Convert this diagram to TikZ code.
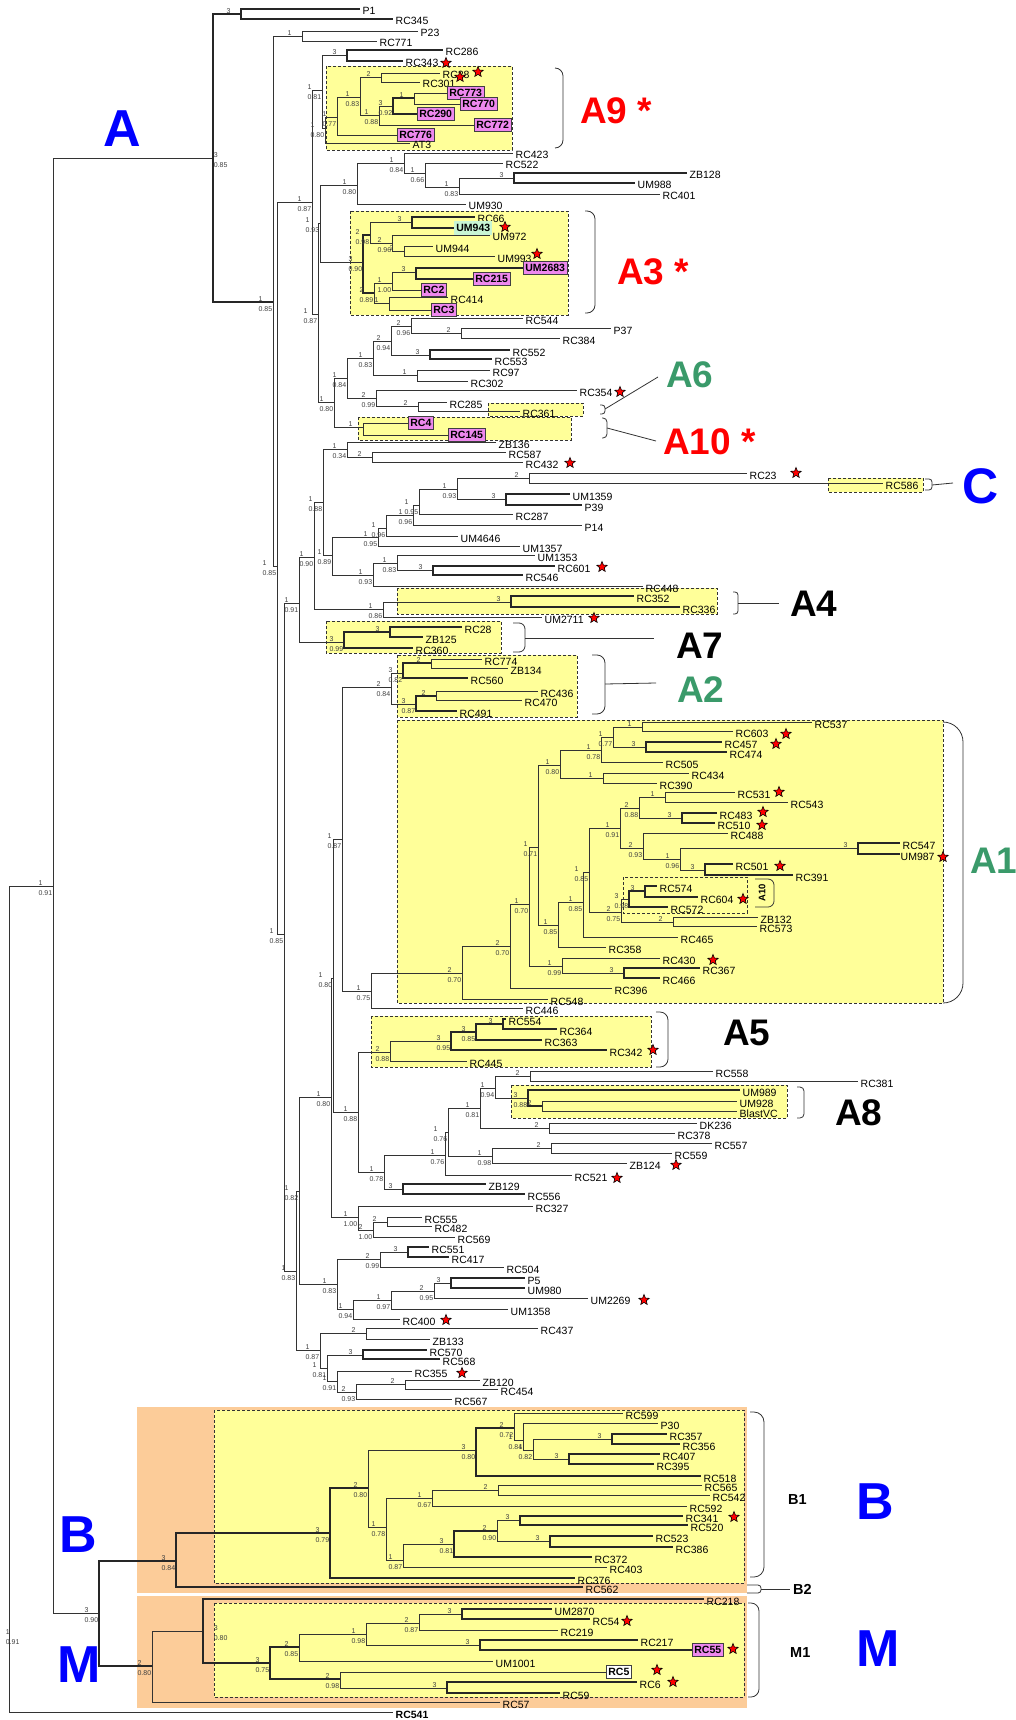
\documentclass[tikz,border=0pt]{standalone}
\usepackage{fontspec}
\setmainfont{Liberation Sans}
\usetikzlibrary{shapes.geometric}

\definecolor{clyel}{RGB}{255,255,153}
\definecolor{clorg}{RGB}{252,204,153}
\definecolor{boxmag}{RGB}{238,136,238}
\definecolor{boxgrn}{RGB}{200,245,212}
\definecolor{clred}{RGB}{255,0,0}
\definecolor{clgrn}{RGB}{58,154,106}
\definecolor{clblue}{RGB}{0,0,255}

\begin{document}
\begin{tikzpicture}[x=1pt, y=-1pt,
  br/.style={draw=black!80, line width=0.9pt},
  brt/.style={draw=black!85, line width=1.8pt},
  lf/.style={anchor=west, inner xsep=2.5pt, inner ysep=0pt, text height=12pt,
             text depth=0pt, font=\fontsize{10.5}{12}\selectfont},
  mbox/.style={anchor=west, draw=black!75, fill=boxmag, line width=0.8pt,
               inner xsep=2pt, inner ysep=2.5pt, text height=8pt, text depth=0.5pt,
               font=\bfseries\fontsize{10.5}{12}\selectfont},
  bs/.style={anchor=east, align=left, inner sep=0.6pt, yshift=-2pt,
             font=\fontsize{7}{10}\selectfont, text=black!75},
  clbox/.style={fill=clyel, draw=black!80, dash pattern=on 3pt off 2pt, line width=0.7pt},
  brk/.style={draw=black!80, line width=0.8pt},
  rstar/.style={star, star points=5, star point ratio=2.3, fill=red, draw=black,
                line width=0.6pt, minimum size=11pt, inner sep=0pt},
  sublab/.style={anchor=west, inner sep=0pt, font=\bfseries\fontsize{37}{37}\selectfont},
  biglab/.style={inner sep=0pt, text=clblue, font=\bfseries\fontsize{52}{52}\selectfont},
  smlab/.style={anchor=west, inner sep=0pt, font=\bfseries\fontsize{14.5}{15}\selectfont},
]
\useasboundingbox (0,0) rectangle (1016,1720);

% Backgrounds of B and M
\fill[clorg] (137,1407) rectangle (747,1593);
\fill[clorg] (137,1596) rectangle (747,1708);

% Clade boxes
\draw[clbox] (326,66) rectangle (512,150);     % A9
\draw[clbox] (350,211) rectangle (568,315);    % A3
\draw[clbox] (488,403) rectangle (583,416);    % A6
\draw[clbox] (358,417) rectangle (571,440);    % A10
\draw[clbox] (828,478) rectangle (923,492);    % C
\draw[clbox] (397,588) rectangle (717,614);    % A4
\draw[clbox] (326,621) rectangle (501,653);    % A7
\draw[clbox] (397,655) rectangle (577,717);    % A2
\draw[clbox] (397,720) rectangle (943,1003);   % A1
\draw[clbox, fill=none] (623,877) rectangle (747,913);
\draw[clbox] (371,1016) rectangle (651,1067);  % A5
\draw[clbox] (511,1085) rectangle (787,1118);  % A8
\draw[clbox] (214,1410) rectangle (744,1583);  % B1
\draw[clbox] (214,1603) rectangle (744,1697);  % M1

% Internal nodes
\coordinate (r0) at (9,1299);
\coordinate (nX) at (53,886);
\coordinate (nA) at (213,158);
\coordinate (nP1) at (241,14);
\coordinate (nAr) at (273,302);
\coordinate (nP23) at (302,36);
\coordinate (nX276) at (277,566);
\coordinate (n87) at (312,202);
\coordinate (n81) at (322,90);
\coordinate (n286) at (347,55);
\coordinate (n80) at (325,128);
\coordinate (n77) at (337,117);
\coordinate (n83) at (360,97);
\coordinate (n28) at (381,77);
\coordinate (n88) at (379,115);
\coordinate (n92) at (393,106);
\coordinate (n773) at (414,98);
\coordinate (n87b) at (318,314);
\coordinate (n93) at (320,223);
\coordinate (n80a) at (357,185);
\coordinate (n84) at (404,163);
\coordinate (n66) at (425,173);
\coordinate (n83a) at (459,187);
\coordinate (n128) at (514,178);
\coordinate (n90) at (363,262);
\coordinate (n98) at (370,235);
\coordinate (n66b) at (412,222);
\coordinate (n96) at (392,243);
\coordinate (n944) at (404,251);
\coordinate (n89) at (374,293);
\coordinate (n100) at (392,283);
\coordinate (n2683) at (416,272);
\coordinate (n414) at (389,303);
\coordinate (n80b) at (334,402);
\coordinate (n84b) at (347,378);
\coordinate (n83b) at (373,358);
\coordinate (n94) at (391,341);
\coordinate (n96b) at (411,326);
\coordinate (n37) at (461,333);
\coordinate (n552) at (430,355);
\coordinate (n97) at (417,375);
\coordinate (n99) at (376,398);
\coordinate (n285) at (418,406);
\coordinate (n4) at (363,427);
\coordinate (s85) at (284,934);
\coordinate (s91) at (299,603);
\coordinate (s90) at (314,557);
\coordinate (s88) at (323,502);
\coordinate (n34) at (347,449);
\coordinate (n587) at (372,457);
\coordinate (n89b) at (332,555);
\coordinate (n95c) at (378,537);
\coordinate (n96c) at (386,528);
\coordinate (n96d) at (413,515);
\coordinate (n95d) at (419,505);
\coordinate (n93d) at (457,489);
\coordinate (n23) at (529,478);
\coordinate (n1359) at (506,499);
\coordinate (n93c) at (373,575);
\coordinate (n83e) at (397,563);
\coordinate (n601) at (433,570);
\coordinate (n86) at (383,609);
\coordinate (n352) at (511,602);
\coordinate (nA7) at (344,642);
\coordinate (n28b) at (390,632);
\coordinate (s83) at (296,1271);
\coordinate (s82) at (299,1191);
\coordinate (s80) at (331,1097);
\coordinate (s80x) at (333,978);
\coordinate (n87c) at (342,839);
\coordinate (nA2) at (391,687);
\coordinate (n82) at (403,673);
\coordinate (n774) at (431,663);
\coordinate (n87e) at (416,704);
\coordinate (n436) at (436,696);
\coordinate (n75) at (371,991);
\coordinate (nA1) at (462,973);
\coordinate (n70a) at (510,946);
\coordinate (n70b) at (529,904);
\coordinate (n71) at (538,847);
\coordinate (n80d) at (560,765);
\coordinate (n78) at (601,750);
\coordinate (n77b) at (613,737);
\coordinate (n537) at (642,727);
\coordinate (n457) at (646,747);
\coordinate (n434) at (603,778);
\coordinate (n85g) at (558,925);
\coordinate (n85e) at (583,902);
\coordinate (n85f) at (589,872);
\coordinate (n91b) at (620,828);
\coordinate (n88b) at (639,808);
\coordinate (n531) at (665,797);
\coordinate (n483) at (682,818);
\coordinate (n93b) at (643,848);
\coordinate (n96e) at (680,859);
\coordinate (n547) at (858,848);
\coordinate (n501) at (705,870);
\coordinate (n75b) at (621,912);
\coordinate (n98b) at (629,899);
\coordinate (n574) at (645,891);
\coordinate (n132) at (673,922);
\coordinate (n99b) at (562,966);
\coordinate (n367) at (624,973);
\coordinate (n88c) at (358,1112);
\coordinate (nA5) at (390,1052);
\coordinate (n95e) at (451,1041);
\coordinate (n85h) at (476,1032);
\coordinate (n554) at (503,1024);
\coordinate (n78b) at (384,1172);
\coordinate (n76a) at (445,1155);
\coordinate (n76b) at (448,1132);
\coordinate (n81b) at (480,1108);
\coordinate (n94b) at (495,1088);
\coordinate (n558) at (530,1076);
\coordinate (nA8) at (528,1098);
\coordinate (n928) at (542,1106);
\coordinate (n236) at (549,1128);
\coordinate (n98c) at (492,1156);
\coordinate (n557) at (551,1148);
\coordinate (n129) at (403,1189);
\coordinate (n100b) at (358,1217);
\coordinate (n100c) at (373,1230);
\coordinate (n555) at (387,1222);
\coordinate (n83d) at (337,1284);
\coordinate (n99c) at (380,1259);
\coordinate (n551) at (408,1252);
\coordinate (n94c) at (353,1309);
\coordinate (n97c) at (391,1300);
\coordinate (n95f) at (434,1291);
\coordinate (n5) at (451,1283);
\coordinate (n87d) at (320,1350);
\coordinate (n437) at (366,1333);
\coordinate (n81d) at (327,1368);
\coordinate (n570) at (363,1355);
\coordinate (n91d) at (337,1381);
\coordinate (n93e) at (356,1392);
\coordinate (n120) at (405,1384);
\coordinate (nBM) at (99,1613);
\coordinate (nB) at (176,1561);
\coordinate (nB1) at (330,1533);
\coordinate (n80e) at (368,1488);
\coordinate (n80f) at (476,1450);
\coordinate (n72) at (514,1428);
\coordinate (n84c) at (523,1440);
\coordinate (n82c) at (533,1450);
\coordinate (n357) at (612,1439);
\coordinate (n407) at (569,1459);
\coordinate (n78c) at (386,1527);
\coordinate (n67) at (432,1498);
\coordinate (n565) at (498,1490);
\coordinate (n87f) at (403,1560);
\coordinate (n81c) at (454,1544);
\coordinate (n90c) at (497,1531);
\coordinate (n341) at (520,1520);
\coordinate (n523) at (550,1541);
\coordinate (nM) at (152,1666);
\coordinate (nM1) at (203,1631);
\coordinate (n75c) at (270,1663);
\coordinate (n85i) at (299,1647);
\coordinate (n98e) at (366,1634);
\coordinate (n87g) at (419,1623);
\coordinate (n2870) at (462,1614);
\coordinate (n217) at (480,1645);
\coordinate (n98d) at (340,1679);
\coordinate (n6) at (447,1688);

% Leaves
\node[lf] (P1) at (360,9) {P1};
\node[lf] (RC345) at (393,19) {RC345};
\node[lf] (P23) at (418,31) {P23};
\node[lf] (RC771) at (377,41) {RC771};
\node[lf] (RC286) at (443,50) {RC286};
\node[lf] (RC343) at (403,61) {RC343};
\node[lf] (RC28a) at (440,73) {RC28};
\node[lf] (RC301) at (420,82) {RC301};
\node[mbox] (RC773) at (447,93) {RC773};
\node[mbox] (RC770) at (460,104) {RC770};
\node[mbox] (RC290) at (417,114) {RC290};
\node[mbox] (RC772) at (474,125) {RC772};
\node[mbox] (RC776) at (397,135) {RC776};
\node[lf] (AT3) at (410,143) {AT3};
\node[lf] (RC423) at (513,153) {RC423};
\node[lf] (RC522) at (503,163) {RC522};
\node[lf] (ZB128) at (687,173) {ZB128};
\node[lf] (UM988) at (635,183) {UM988};
\node[lf] (RC401) at (660,194) {RC401};
\node[lf] (UM930) at (466,204) {UM930};
\node[lf] (RC66) at (475,217) {RC66};
\node[lf] (UM972) at (490,235) {UM972};
\node[mbox, fill=boxgrn, draw=none] (UM943) at (454,228) {UM943};
\node[lf] (UM944) at (433,246) {UM944};
\node[lf] (UM993) at (495,256) {UM993};
\node[mbox] (UM2683) at (523,268) {UM2683};
\node[mbox] (RC215) at (473,279) {RC215};
\node[mbox] (RC2) at (421,290) {RC2};
\node[lf] (RC414) at (448,297) {RC414};
\node[mbox] (RC3) at (431,310) {RC3};
\node[lf] (RC544) at (523,318) {RC544};
\node[lf] (P37) at (611,328) {P37};
\node[lf] (RC384) at (560,338) {RC384};
\node[lf] (RC552) at (510,350) {RC552};
\node[lf] (RC553) at (492,359) {RC553};
\node[lf] (RC97) at (490,370) {RC97};
\node[lf] (RC302) at (468,381) {RC302};
\node[lf] (RC354) at (577,390) {RC354};
\node[lf] (RC285) at (447,402) {RC285};
\node[lf] (RC361) at (520,411) {RC361};
\node[mbox] (RC4) at (408,423) {RC4};
\node[mbox] (RC145) at (448,435) {RC145};
\node[lf] (ZB136) at (496,442) {ZB136};
\node[lf] (RC587) at (506,452) {RC587};
\node[lf] (RC432) at (523,462) {RC432};
\node[lf] (RC23) at (747,473) {RC23};
\node[lf] (RC586) at (883,483) {RC586};
\node[lf] (UM1359) at (570,494) {UM1359};
\node[lf] (P39) at (582,505) {P39};
\node[lf] (RC287) at (513,514) {RC287};
\node[lf] (P14) at (582,525) {P14};
\node[lf] (UM4646) at (458,536) {UM4646};
\node[lf] (UM1357) at (520,546) {UM1357};
\node[lf] (UM1353) at (535,555) {UM1353};
\node[lf] (RC601) at (555,566) {RC601};
\node[lf] (RC546) at (523,575) {RC546};
\node[lf] (RC448) at (643,586) {RC448};
\node[lf] (RC352) at (634,596) {RC352};
\node[lf] (RC336) at (680,607) {RC336};
\node[lf] (UM2711) at (542,617) {UM2711};
\node[lf] (RC28b) at (462,627) {RC28};
\node[lf] (ZB125) at (423,637) {ZB125};
\node[lf] (RC360) at (413,648) {RC360};
\node[lf] (RC774) at (482,659) {RC774};
\node[lf] (ZB134) at (508,668) {ZB134};
\node[lf] (RC560) at (468,678) {RC560};
\node[lf] (RC436) at (538,691) {RC436};
\node[lf] (RC470) at (522,700) {RC470};
\node[lf] (RC491) at (457,711) {RC491};
\node[lf] (RC537) at (812,722) {RC537};
\node[lf] (RC603) at (733,731) {RC603};
\node[lf] (RC457) at (722,742) {RC457};
\node[lf] (RC474) at (727,752) {RC474};
\node[lf] (RC505) at (663,762) {RC505};
\node[lf] (RC434) at (689,773) {RC434};
\node[lf] (RC390) at (657,783) {RC390};
\node[lf] (RC531) at (735,792) {RC531};
\node[lf] (RC543) at (788,802) {RC543};
\node[lf] (RC483) at (717,813) {RC483};
\node[lf] (RC510) at (715,823) {RC510};
\node[lf] (RC488) at (728,833) {RC488};
\node[lf] (RC547) at (900,843) {RC547};
\node[lf, inner xsep=0.5pt] (UM987) at (900,854) {UM987};
\node[lf] (RC501) at (733,864) {RC501};
\node[lf] (RC391) at (793,875) {RC391};
\node[lf] (RC574) at (657,886) {RC574};
\node[lf] (RC604) at (698,897) {RC604};
\node[lf] (RC572) at (668,907) {RC572};
\node[lf] (ZB132) at (758,917) {ZB132};
\node[lf] (RC573) at (757,926) {RC573};
\node[lf] (RC465) at (678,937) {RC465};
\node[lf] (RC358) at (606,947) {RC358};
\node[lf] (RC430) at (660,958) {RC430};
\node[lf] (RC367) at (700,968) {RC367};
\node[lf] (RC466) at (660,978) {RC466};
\node[lf] (RC396) at (612,988) {RC396};
\node[lf] (RC548) at (548,999) {RC548};
\node[lf] (RC446) at (523,1008) {RC446};
\node[lf] (RC554) at (506,1019) {RC554};
\node[lf] (RC364) at (557,1029) {RC364};
\node[lf] (RC363) at (542,1040) {RC363};
\node[lf] (RC342) at (607,1050) {RC342};
\node[lf] (RC445) at (467,1061) {RC445};
\node[lf] (RC558) at (713,1071) {RC558};
\node[lf] (RC381) at (858,1081) {RC381};
\node[lf] (UM989) at (740,1090) {UM989};
\node[lf] (UM928) at (737,1101) {UM928};
\node[lf] (BlastVC) at (737,1111) {BlastVC};
\node[lf] (DK236) at (697,1123) {DK236};
\node[lf] (RC378) at (675,1133) {RC378};
\node[lf] (RC557) at (712,1143) {RC557};
\node[lf] (RC559) at (672,1153) {RC559};
\node[lf] (ZB124) at (627,1163) {ZB124};
\node[lf] (RC521) at (572,1175) {RC521};
\node[lf] (ZB129) at (486,1184) {ZB129};
\node[lf] (RC556) at (525,1194) {RC556};
\node[lf] (RC327) at (533,1206) {RC327};
\node[lf] (RC555) at (422,1217) {RC555};
\node[lf] (RC482) at (432,1226) {RC482};
\node[lf] (RC569) at (455,1237) {RC569};
\node[lf] (RC551) at (429,1247) {RC551};
\node[lf] (RC417) at (449,1257) {RC417};
\node[lf] (RC504) at (504,1267) {RC504};
\node[lf] (P5) at (525,1278) {P5};
\node[lf] (UM980) at (525,1288) {UM980};
\node[lf] (UM2269) at (588,1298) {UM2269};
\node[lf] (UM1358) at (508,1309) {UM1358};
\node[lf] (RC400) at (400,1319) {RC400};
\node[lf] (RC437) at (538,1328) {RC437};
\node[lf] (ZB133) at (430,1339) {ZB133};
\node[lf] (RC570) at (427,1350) {RC570};
\node[lf] (RC568) at (440,1359) {RC568};
\node[lf] (RC355) at (412,1371) {RC355};
\node[lf] (ZB120) at (480,1380) {ZB120};
\node[lf] (RC454) at (498,1389) {RC454};
\node[lf] (RC567) at (452,1399) {RC567};
\node[lf] (RC599) at (623,1413) {RC599};
\node[lf] (P30) at (658,1423) {P30};
\node[lf] (RC357) at (667,1434) {RC357};
\node[lf] (RC356) at (680,1444) {RC356};
\node[lf] (RC407) at (660,1454) {RC407};
\node[lf] (RC395) at (654,1464) {RC395};
\node[lf] (RC518) at (701,1476) {RC518};
\node[lf] (RC565) at (702,1485) {RC565};
\node[lf] (RC542) at (710,1495) {RC542};
\node[lf] (RC592) at (687,1506) {RC592};
\node[lf] (RC341) at (683,1516) {RC341};
\node[lf] (RC520) at (688,1525) {RC520};
\node[lf] (RC523) at (653,1536) {RC523};
\node[lf] (RC386) at (673,1547) {RC386};
\node[lf] (RC372) at (592,1557) {RC372};
\node[lf] (RC403) at (607,1567) {RC403};
\node[lf] (RC376) at (575,1578) {RC376};
\node[lf] (RC562) at (583,1587) {RC562};
\node[lf] (RC218) at (704,1599) {RC218};
\node[lf] (UM2870) at (552,1609) {UM2870};
\node[lf] (RC54) at (590,1619) {RC54};
\node[lf] (RC219) at (558,1630) {RC219};
\node[lf] (RC217) at (638,1640) {RC217};
\node[mbox] (RC55) at (692,1650) {RC55};
\node[lf] (UM1001) at (493,1661) {UM1001};
\node[mbox, fill=white] (RC5) at (606,1672) {RC5};
\node[lf] (RC6) at (637,1682) {RC6};
\node[lf] (RC59) at (560,1693) {RC59};
\node[lf] (RC57) at (500,1702) {RC57};
\node[lf, font=\bfseries\fontsize{10.5}{12}\selectfont] (RC541) at (393,1712) {RC541};

% Branches
\foreach \p/\c in {r0/nX, r0/RC541, nX/nA, nX/nBM,
  nAr/nP23, nAr/nX276, nP23/P23, nP23/RC771, nX276/n87, nX276/s85,
  n87/n81, n87/n87b, n81/n286, n81/n80, n80/n77, n80/AT3, n77/n83, n77/RC776,
  n83/n28, n83/n88, n28/RC28a, n28/RC301, n88/n92, n88/RC772, n773/RC773, n773/RC770,
  n87b/n93, n87b/n80b, n93/n80a, n93/n90, n80a/n84, n80a/UM930, n84/RC423, n84/n66,
  n66/RC522, n66/n83a, n83a/n128, n83a/RC401, n98/n66b, n98/n96, n96/UM972, n96/n944,
  n944/UM944, n944/UM993, n89/n100, n89/n414, n100/n2683, n100/RC2, n414/RC414, n414/RC3,
  n80b/n84b, n80b/n4, n84b/n83b, n84b/n99, n83b/n94, n83b/n97, n94/n96b, n94/n552,
  n96b/RC544, n96b/n37, n37/P37, n37/RC384, n97/RC97, n97/RC302, n99/RC354, n99/n285,
  n285/RC285, n285/RC361, n4/RC4, n4/RC145,
  s85/s91, s85/s83, s91/s90, s91/nA7, s90/s88, s90/n86, s88/n34, s88/n89b,
  n34/ZB136, n34/n587, n587/RC587, n587/RC432, n89b/n95c, n89b/n93c,
  n95c/n96c, n95c/UM1357, n96c/n96d, n96c/UM4646, n96d/n95d, n96d/P14,
  n95d/n93d, n95d/RC287, n93d/n23, n93d/n1359, n23/RC23, n23/RC586,
  n93c/n83e, n93c/RC448, n83e/UM1353, n83e/n601, n86/n352, n86/UM2711,
  s83/s82, s83/n87d, s82/s80, s82/n83d, s80/s80x, s80/n100b, s80x/n87c, s80x/n88c,
  n87c/nA2, n87c/n75, nA2/n82, nA2/n87e, n774/RC774, n774/ZB134, n436/RC436, n436/RC470,
  n75/nA1, n75/RC446, nA1/n70a, nA1/RC548, n70a/n70b, n70a/RC396, n70b/n71, n70b/n99b,
  n71/n80d, n71/n85g, n80d/n78, n80d/n434, n78/n77b, n78/RC505, n77b/n537, n77b/n457,
  n537/RC537, n537/RC603, n434/RC434, n434/RC390, n85g/n85e, n85g/RC358,
  n85e/n85f, n85e/RC465, n85f/n91b, n85f/n75b, n91b/n88b, n91b/n93b,
  n88b/n531, n88b/n483, n531/RC531, n531/RC543, n93b/RC488, n93b/n96e,
  n96e/n547, n96e/n501, n75b/n98b, n75b/n132, n132/ZB132, n132/RC573,
  n99b/RC430, n99b/n367, n88c/nA5, n88c/n78b, nA5/n95e, nA5/RC445,
  n78b/n76a, n78b/n129, n76a/n76b, n76a/RC521, n76b/n81b, n76b/n98c,
  n81b/n94b, n81b/n236, n94b/n558, n94b/nA8, n558/RC558, n558/RC381,
  n928/UM928, n928/BlastVC, n236/DK236, n236/RC378, n98c/n557, n98c/ZB124,
  n557/RC557, n557/RC559, n100b/RC327, n100b/n100c, n100c/n555, n100c/RC569,
  n555/RC555, n555/RC482, n83d/n99c, n83d/n94c, n99c/n551, n99c/RC504,
  n94c/n97c, n94c/RC400, n97c/n95f, n97c/UM1358, n95f/n5, n95f/UM2269,
  n87d/n437, n87d/n81d, n437/RC437, n437/ZB133, n81d/n570, n81d/n91d,
  n91d/RC355, n91d/n93e, n93e/n120, n93e/RC567, n120/ZB120, n120/RC454,
  n80e/n80f, n80e/n78c, n72/RC599, n72/n84c, n84c/P30, n84c/n82c,
  n82c/n357, n82c/n407, n78c/n67, n78c/n87f, n67/n565, n67/RC592,
  n565/RC565, n565/RC542, n87f/n81c, n87f/RC403, n90c/n341, n90c/n523,
  nM/nM1, nM/RC57, n85i/n98e, n85i/UM1001, n98e/n87g, n98e/n217,
  n87g/n2870, n87g/RC219, n98d/RC5, n98d/n6}
  \draw[br] (\p) |- (\c);

% Branches of well supported nodes
\foreach \p/\c in {nA/nP1, nA/nAr, nP1/P1, nP1/RC345, n286/RC286, n286/RC343,
  n92/n773, n92/RC290, n128/ZB128, n128/UM988, n90/n98, n90/n89,
  n66b/RC66, n66b/UM943, n2683/UM2683, n2683/RC215, n552/RC552, n552/RC553,
  n1359/UM1359, n1359/P39, n601/RC601, n601/RC546, n352/RC352, n352/RC336,
  nA7/n28b, nA7/RC360, n28b/RC28b, n28b/ZB125, n82/n774, n82/RC560,
  n87e/n436, n87e/RC491, n457/RC457, n457/RC474, n483/RC483, n483/RC510,
  n547/RC547, n547/UM987, n501/RC501, n501/RC391, n98b/n574, n98b/RC572,
  n574/RC574, n574/RC604, n367/RC367, n367/RC466, n95e/n85h, n95e/RC342,
  n85h/n554, n85h/RC363, n554/RC554, n554/RC364, nA8/UM989, nA8/n928,
  n129/ZB129, n129/RC556, n551/RC551, n551/RC417, n5/P5, n5/UM980,
  n570/RC570, n570/RC568, nBM/nB, nBM/nM, nB/nB1, nB/RC562, nB1/n80e, nB1/RC376,
  n80f/n72, n80f/RC518, n357/RC357, n357/RC356, n407/RC407, n407/RC395,
  n81c/n90c, n81c/RC372, n341/RC341, n341/RC520, n523/RC523, n523/RC386,
  nM1/RC218, nM1/n75c, n75c/n85i, n75c/n98d, n2870/UM2870, n2870/RC54,
  n217/RC217, n217/RC55, n6/RC6, n6/RC59}
  \draw[brt] (\p) |- (\c);

% Support values
\foreach [count=\i] \n/\t/\b in {nX/1/0.91, nAr/1/0.85, nX276/1/0.85, n87/1/0.87,
  n81/1/0.81, n80/1/0.80, n77/1/0.77, n83/1/0.83, n88/1/0.88, n92/3/0.92,
  n87b/1/0.87, n93/1/0.93, n80a/1/0.80, n84/1/0.84, n66/1/0.66, n83a/1/0.83,
  n90/3/0.90, n98/2/0.98, n96/2/0.96, n89/2/0.89, n100/1/1.00, n80b/1/0.80,
  n84b/1/0.84, n83b/1/0.83, n94/2/0.94, n96b/2/0.96, n99/2/0.99, s85/1/0.85,
  s91/1/0.91, s90/1/0.90, s88/1/0.88, n34/1/0.34, n89b/1/0.89, n95c/1/0.95,
  n96c/1/0.96, n96d/1/0.96, n95d/1/0.95, n93d/1/0.93, n93c/1/0.93, n83e/1/0.83,
  n86/1/0.86, nA7/3/0.99, s83/1/0.83, s82/1/0.82, s80/1/0.80, s80x/1/0.80,
  n87c/1/0.87, nA2/2/0.84, n82/3/0.82, n87e/3/0.87, n75/1/0.75, nA1/2/0.70,
  n70a/2/0.70, n70b/1/0.70, n71/1/0.71, n80d/1/0.80, n78/1/0.78, n77b/1/0.77,
  n85g/1/0.85, n85e/1/0.85, n85f/1/0.85, n91b/1/0.91, n88b/2/0.88, n93b/2/0.93,
  n96e/1/0.96, n75b/2/0.75, n98b/3/0.98, n99b/1/0.99, n88c/1/0.88, nA5/2/0.88,
  n95e/3/0.95, n85h/3/0.85, n78b/1/0.78, n76a/1/0.76, n76b/1/0.76, n81b/1/0.81,
  n94b/1/0.94, nA8/3/0.88, n98c/1/0.98, n100b/1/1.00, n100c/2/1.00, n83d/1/0.83,
  n99c/2/0.99, n94c/1/0.94, n97c/1/0.97, n95f/2/0.95, n87d/1/0.87, n81d/1/0.81,
  n91d/1/0.91, n93e/2/0.93, nBM/3/0.90, nB/3/0.84, nB1/3/0.79, n80e/2/0.80,
  n80f/3/0.80, n72/2/0.72, n84c/1/0.84, n82c/1/0.82, n78c/1/0.78, n67/1/0.67,
  n87f/1/0.87, n81c/3/0.81, n90c/2/0.90, nM/2/0.80, n75c/3/0.75, n85i/2/0.85,
  n98e/1/0.98, n87g/2/0.87, n98d/2/0.98}
  \node[bs] (bs\i) at (\n) {\t\\\b};
\foreach [count=\i] \n/\t in {nP1/3, nP23/1, n286/3, n28/2, n773/1, n128/3, n66b/3,
  n944/2, n2683/3, n414/1, n37/2, n552/3, n97/1, n285/2, n4/1, n587/2, n23/2,
  n1359/3, n601/3, n352/3, n28b/3, n774/2, n436/2, n537/1, n457/3, n434/1,
  n531/1, n483/3, n547/3, n501/3, n574/3, n132/2, n367/3, n554/3, n558/2,
  n928/2, n236/2, n557/2, n129/3, n555/2, n551/3, n5/3, n437/2, n570/3,
  n120/2, n357/3, n407/3, n565/2, n341/3, n523/3, n2870/3, n217/3, n6/3}
  \node[bs] (bt\i) at (\n) {\t\\\phantom{0.00}};
\node[bs, anchor=west] (bsA) at (nA) {3\\0.85};
\node[bs, anchor=west, xshift=10pt] (bsM1) at (nM1) {3\\0.80};
\node[bs, anchor=west] (bsR) at (5,1635) {1\\0.91};

% Stars
\foreach [count=\i] \x/\y in {446/63, 460/77, 478/72, 505/227, 537/254, 620/392,
  570/463, 796/473, 602/567, 594/618, 786/734, 776/744, 779/792, 763/812,
  762/825, 943/857, 780/866, 743/899, 713/960, 653/1050, 676/1165, 617/1178,
  644/1300, 446/1320, 462/1373, 734/1517, 627/1621, 733/1649, 657/1670, 673/1682}
  \node[rstar] (st\i) at (\x,\y) {};

% Brackets
\draw[brk, rounded corners=8pt] (555,68) -- (563,68) -- (563,148) -- (555,148);
\draw[brk, rounded corners=8pt] (585,211) -- (595,211) -- (595,313) -- (585,313);
\draw[brk, rounded corners=3pt] (600,405) -- (605,405) -- (605,414) -- (600,414);
\draw[brk, rounded corners=4pt] (602,418) -- (607,418) -- (607,438) -- (602,438);
\draw[brk, rounded corners=3pt] (925,479) -- (932,479) -- (932,490) -- (925,490);
\draw[brk, rounded corners=3pt] (733,592) -- (738,592) -- (738,614) -- (733,614);
\draw[brk, rounded corners=6pt] (513,623) -- (525,623) -- (525,652) -- (513,652);
\draw[brk, rounded corners=8pt] (592,655) -- (605,655) -- (605,714) -- (592,714);
\draw[brk, rounded corners=20pt] (943,722) -- (963,722) -- (963,1003) -- (943,1003);
\draw[brk, rounded corners=6pt] (755,879) -- (774,879) -- (774,907) -- (755,907);
\draw[brk, rounded corners=8pt] (656,1012) -- (668,1012) -- (668,1067) -- (656,1067);
\draw[brk, rounded corners=4pt] (797,1087) -- (804,1087) -- (804,1118) -- (797,1118);
\draw[brk, rounded corners=10pt] (750,1412) -- (764,1412) -- (764,1577) -- (750,1577);
\draw[brk, rounded corners=3pt] (747,1585) -- (761,1585) -- (761,1593) -- (747,1593);
\draw[brk, rounded corners=8pt] (748,1603) -- (759,1603) -- (759,1697) -- (748,1697);

% Bracket leads
\coordinate (kA6) at (605,409);   \coordinate (eA6) at (658,377);
\coordinate (kA10) at (607,428);  \coordinate (eA10) at (656,441);
\coordinate (kC) at (932,485);    \coordinate (eC) at (953,483);
\coordinate (kA4) at (738,603);   \coordinate (eA4) at (779,603);
\coordinate (kA7) at (525,638);   \coordinate (eA7) at (654,638);
\coordinate (kA2) at (605,684);   \coordinate (eA2) at (656,683);
\coordinate (kB2) at (761,1589);  \coordinate (eB2) at (790,1589);
\foreach \k in {A6, A10, C, A4, A7, A2, B2}
  \draw[brk] (k\k) -- (e\k);

% Clade names
\node[biglab] (labA) at (122,129) {A};
\node[biglab] (labBl) at (78,1535) {B};
\node[biglab] (labMl) at (79,1665) {M};
\node[biglab] (labB) at (875,1502) {B};
\node[biglab] (labM) at (878,1649) {M};
\node[sublab, text=clred] (labA9) at (580,111) {A9 *};
\node[sublab, text=clred] (labA3) at (617,272) {A3 *};
\node[sublab, text=clgrn] (labA6) at (666,375) {A6};
\node[sublab, text=clred] (labA10) at (663,442) {A10 *};
\node[sublab, text=clblue, font=\bfseries\fontsize{50}{50}\selectfont] (labC) at (962,486) {C};
\node[sublab] (labA4) at (790,604) {A4};
\node[sublab] (labA7) at (676,646) {A7};
\node[sublab, text=clgrn] (labA2) at (677,690) {A2};
\node[sublab, text=clgrn] (labA1) at (970,861) {A1};
\node[sublab] (labA5) at (723,1033) {A5};
\node[sublab] (labA8) at (835,1113) {A8};
\node[rotate=90, inner sep=0pt, font=\bfseries\fontsize{9.5}{10}\selectfont] (labA10i) at (762,893) {A10};
\node[smlab] (labB1) at (788,1499) {B1};
\node[smlab] (labB2) at (793,1589) {B2};
\node[smlab] (labM1) at (790,1652) {M1};

\end{tikzpicture}
\end{document}
